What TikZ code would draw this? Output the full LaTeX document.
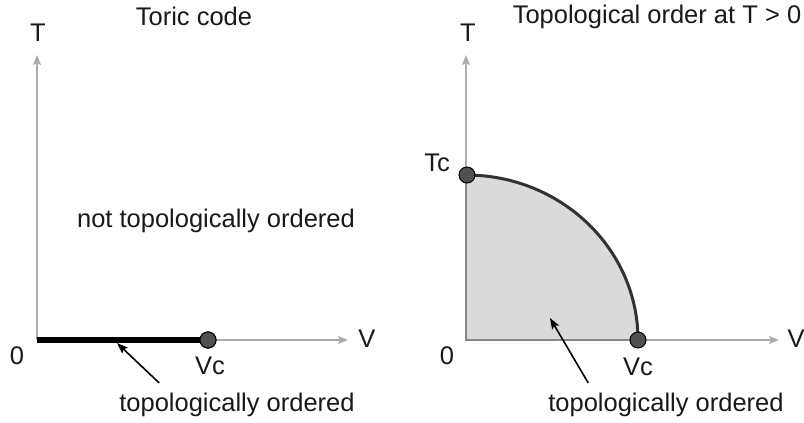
\documentclass[tikz,border=0pt]{standalone}
\usepackage{fontspec}
\setmainfont{Liberation Sans}
\usetikzlibrary{arrows.meta,positioning,calc}
\definecolor{axisgray}{RGB}{172,172,172}
\definecolor{edgegray}{RGB}{135,135,135}
\definecolor{regiongray}{RGB}{218,218,218}
\definecolor{dotgray}{RGB}{80,80,80}
\definecolor{arcgray}{RGB}{50,50,50}
\definecolor{txtdark}{RGB}{25,25,25}

\tikzset{
  axis/.style={draw=axisgray, line width=1.6pt, -{Stealth[length=10pt,width=8pt,inset=2pt]}},
  crit/.style={circle, draw=black, fill=dotgray, line width=1pt, minimum size=16pt, inner sep=0pt},
  lbl/.style={font=\fontsize{25.5}{29}\selectfont, text=txtdark, inner sep=0pt},
  pointer/.style={draw=black, line width=1.6pt, -{Stealth[length=11pt,width=8pt,inset=2pt]}}
}

\begin{document}
\begin{tikzpicture}[x=1pt,y=1pt]
\useasboundingbox (0,0) rectangle (804,-423);

% left: toric code
\coordinate (o1) at (37,-340);
\coordinate (t1) at (37,-55);
\coordinate (v1) at (348,-340);
\draw[axis] (o1) -- (t1);
\draw[axis] (o1) -- (v1);
\node[crit] (vc1) at (208,-340) {};
\draw[line width=6pt] (o1) -- (vc1.west);
\node[crit] at (vc1) {};

\node[lbl] (title1) at (194,-16) {Toric code};
\node[lbl] (T1) at (38,-33) {T};
\node[lbl] (V1) at (367,-339) {V};
\node[lbl] (zero1) at (17,-356) {0};
\node[lbl] (vclbl1) at (210,-366) {Vc};
\node[lbl] (notord) at (216,-221) {not topologically ordered};
\node[lbl] (ord1) at (237,-405) {topologically ordered};
\coordinate (hit1) at (117,-343);
\draw[pointer] ($(ord1.north west)!0.17!(ord1.north east)+(0,10)$) -- (hit1);

% right: finite temperature
\coordinate (o2) at (466,-340);
\coordinate (t2) at (466,-55);
\coordinate (v2) at (779,-340);
\draw[axis] (o2) -- (t2);
\draw[axis] (o2) -- (v2);
\fill[regiongray] (o2) -- (466,-175) arc[start angle=90, end angle=0, x radius=172, y radius=165] -- cycle;
\draw[edgegray, line width=1.6pt] (638,-340) -- (o2) -- (466,-175);
\draw[arcgray, line width=3pt] (466,-175) arc[start angle=90, end angle=0, x radius=172, y radius=165];
\node[crit] (tc2) at (467,-175) {};
\node[crit] (vc2) at (638,-340) {};

\node[lbl] (title2) at (657,-17) {Topological order at T > 0};
\node[lbl] (T2) at (468,-33) {T};
\node[lbl] (tclbl2) at (437,-163) {Tc};
\node[lbl] (V2) at (796,-339) {V};
\node[lbl] (zero2) at (447,-356) {0};
\node[lbl] (vclbl2) at (638,-367) {Vc};
\node[lbl] (ord2) at (666,-405) {topologically ordered};
\coordinate (hit2) at (550,-318);
\draw[pointer] ($(ord2.north west)!0.17!(ord2.north east)+(0,10)$) -- (hit2);
\end{tikzpicture}
\end{document}
